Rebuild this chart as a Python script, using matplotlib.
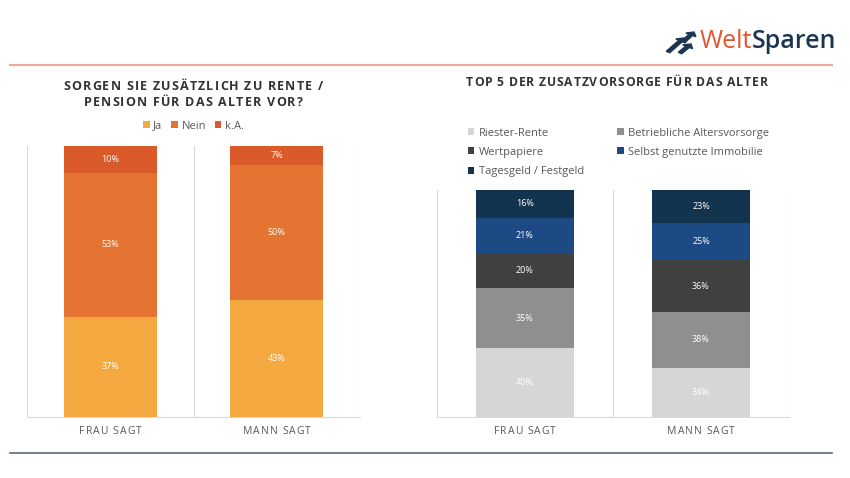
import numpy as np
import matplotlib
matplotlib.use('Agg')
import matplotlib.pyplot as plt
from matplotlib.lines import Line2D
from matplotlib.patches import FancyArrow

plt.rcParams['font.family'] = ['Open Sans', 'DejaVu Sans']

categories = ['FRAU SAGT', 'MANN SAGT']

# Sorgen Sie zusätzlich zu Rente / Pension für das Alter vor?
vorsorge_labels = ['Ja', 'Nein', 'k.A.']
vorsorge_ja = [37, 43]
vorsorge_nein = [53, 50]
vorsorge_ka = [10, 7]

# Top 5 der Zusatzvorsorge (100% gestapelt)
top5_labels = ['Riester-Rente', 'Betriebliche Altersvorsorge', 'Wertpapiere',
               'Selbst genutzte Immobilie', 'Tagesgeld / Festgeld']
riester = [40, 34]
betrieblich = [35, 38]
wertpapiere = [20, 36]
immobilie = [21, 25]
tagesgeld = [16, 23]

W, H = 850, 478
fig = plt.figure(figsize=(W / 100, H / 100), dpi=100)
renderer = fig.canvas.get_renderer()


def box(x0, y0, x1, y1):
    # pixel box (top-left origin) -> figure fraction rect
    return [x0 / W, 1 - y1 / H, (x1 - x0) / W, (y1 - y0) / H]


def fx(x):
    return x / W


def fy(y):
    return 1 - y / H


def text_width(s, **kw):
    t = fig.text(0, 0, s, **kw)
    w = t.get_window_extent(renderer).width
    t.remove()
    return w


def spaced_text(x, y, s, spacing, ha='left', **kw):
    # draw text char by char with extra letter spacing (pixel coords)
    base = text_width('HH', **kw)
    widths = [text_width('H' + c + 'H', **kw) - base for c in s]
    total = sum(widths) + spacing * (len(s) - 1)
    if ha == 'center':
        x = x - total / 2
    cx = x
    for c, w in zip(s, widths):
        if c != ' ':
            fig.text(fx(cx), fy(y), c, ha='left', va='center', **kw)
        cx += w + spacing


grid_color = '#d9d9d9'
label_color = '#595959'
title_color = '#333333'


def stacked(ax, series, shown, colors, names):
    x = np.arange(len(categories))
    bottom = np.zeros(len(categories))
    handles = []
    for vals, raw, col, name in zip(series, shown, colors, names):
        bars = ax.bar(x, vals, 0.56, bottom=bottom, color=col, label=name, zorder=2)
        for xi, b, v, r in zip(x, bottom, vals, raw):
            ax.text(xi, b + v / 2, f'{r}%', ha='center', va='center',
                    color='white', fontsize=6.5, zorder=3)
        bottom = bottom + vals
        handles.append(bars)
    ax.set_xlim(-0.5, len(categories) - 0.5)
    ax.set_ylim(0, 100)
    for b in np.arange(-0.5, len(categories), 1.0):
        ax.axvline(b, color=grid_color, lw=0.8, zorder=1)
    for s in ['top', 'left', 'right']:
        ax.spines[s].set_visible(False)
    ax.spines['bottom'].set_color(grid_color)
    ax.spines['bottom'].set_linewidth(0.8)
    ax.set_yticks([])
    ax.set_xticks([])
    return handles


def category_labels(ax_left, ax_right):
    for i, c in enumerate(categories):
        cx = ax_left + (i + 0.5) * (ax_right - ax_left) / len(categories)
        spaced_text(cx, 432, c, 1.0, ha='center', fontsize=7.5, color=label_color)


# left chart
ax1 = fig.add_axes(box(27, 146, 360, 417))
left_raw = [vorsorge_ja, vorsorge_nein, vorsorge_ka]
left_series = [np.array(s, float) for s in left_raw]
h1 = stacked(ax1, left_series, left_raw, ['#f4a940', '#e57432', '#da5a2a'], vorsorge_labels)
ax1.legend(handles=h1, loc='center', bbox_to_anchor=(0.5, (417 - 126) / 271), ncol=3,
           frameon=False, fontsize=8, handlelength=0.6, handleheight=0.6,
           handletextpad=0.3, columnspacing=0.8, labelcolor=label_color)
category_labels(27, 360)

# right chart
ax2 = fig.add_axes(box(437, 190, 789, 417))
raw_right = [riester, betrieblich, wertpapiere, immobilie, tagesgeld]
totals = np.sum(np.array(raw_right, float), axis=0)
right_series = [np.array(s, float) / totals * 100 for s in raw_right]
h2 = stacked(ax2, right_series, raw_right,
             ['#d6d6d6', '#8f8f8f', '#404040', '#1d4a85', '#13344f'], top5_labels)
order = [0, 2, 4, 1, 3]
ax2.legend(handles=[h2[i] for i in order], labels=[top5_labels[i] for i in order],
           loc='upper left', bbox_to_anchor=((462 - 437) / 352, (417 - 122) / 227), ncol=2,
           frameon=False, fontsize=8, handlelength=0.6, handleheight=0.6,
           handletextpad=0.4, columnspacing=3.0, labelspacing=0.75, labelcolor=label_color,
           borderpad=0)
category_labels(437, 789)

# titles
spaced_text(193, 86, 'SORGEN SIE ZUSÄTZLICH ZU RENTE /', 1.2, ha='center',
            fontsize=9, fontweight='bold', color=title_color)
spaced_text(193, 102, 'PENSION FÜR DAS ALTER VOR?', 1.2, ha='center',
            fontsize=9, fontweight='bold', color=title_color)
spaced_text(466, 83, 'TOP 5 DER ZUSATZVORSORGE FÜR DAS ALTER', 0.85, ha='left',
            fontsize=8.7, fontweight='bold', color=title_color)

# header / footer lines
fig.add_artist(Line2D([fx(10), fx(832)], [fy(65), fy(65)], color='#f0a898', lw=1.5))
fig.add_artist(Line2D([fx(10), fx(832)], [fy(453), fy(453)], color='#5a6a80', lw=1.2))

# logo
navy = '#1c3550'
fig.text(fx(752), fy(42), 'Welt', ha='right', va='center', fontsize=18, color='#e0552f')
fig.text(fx(752), fy(42), 'Sparen', ha='left', va='center', fontsize=18,
         fontweight='semibold', color=navy)
for (x0, y0, x1, y1) in [(668, 52, 684, 38), (680, 53, 691, 44), (683, 42, 694, 32)]:
    fig.add_artist(FancyArrow(
        fx(x0), fy(y0), fx(x1) - fx(x0), fy(y1) - fy(y0), width=0.005,
        head_width=0.014, head_length=0.007, length_includes_head=True,
        color=navy, transform=fig.transFigure))

fig.savefig('out.png', dpi=100)
